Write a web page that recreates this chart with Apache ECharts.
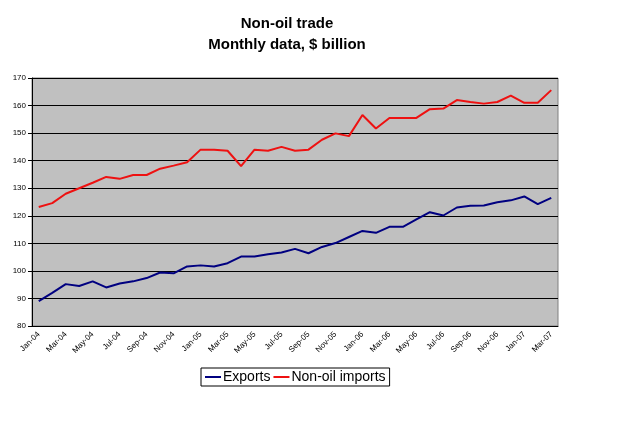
<!DOCTYPE html>
<html>
<head>
<meta charset="utf-8">
<script src="https://cdn.jsdelivr.net/npm/echarts@6/dist/echarts.min.js"></script>
<style>
  html, body { margin: 0; padding: 0; background: #fff; }
  #chart { width: 638px; height: 437px; }
</style>
</head>
<body>
<div id="chart"></div>
<script>
const months = [
  "Jan-04", "Feb-04", "Mar-04", "Apr-04", "May-04", "Jun-04", "Jul-04", "Aug-04", "Sep-04", "Oct-04", "Nov-04", "Dec-04",
  "Jan-05", "Feb-05", "Mar-05", "Apr-05", "May-05", "Jun-05", "Jul-05", "Aug-05", "Sep-05", "Oct-05", "Nov-05", "Dec-05",
  "Jan-06", "Feb-06", "Mar-06", "Apr-06", "May-06", "Jun-06", "Jul-06", "Aug-06", "Sep-06", "Oct-06", "Nov-06", "Dec-06",
  "Jan-07", "Feb-07", "Mar-07",
];

const exportsData = [
  89.0, 92.0, 95.2, 94.5, 96.2, 94.0, 95.4, 96.2, 97.4, 99.4, 99.1, 101.6,
  102.0, 101.6, 102.8, 105.2, 105.2, 106.0, 106.7, 108.0, 106.4, 108.7, 110.1, 112.3,
  114.5, 113.8, 116.0, 116.0, 118.7, 121.3, 120.1, 123.0, 123.6, 123.7, 124.9, 125.6,
  127.0, 124.2, 126.5,
];

const importsData = [
  123.2, 124.6, 128.0, 130.0, 132.0, 134.1, 133.4, 134.8, 134.8, 137.1, 138.2, 139.4,
  144.0, 144.0, 143.6, 138.0, 144.0, 143.6, 145.0, 143.6, 144.0, 147.6, 149.9, 148.9,
  156.6, 151.7, 155.5, 155.5, 155.5, 158.7, 158.9, 162.0, 161.3, 160.7, 161.3, 163.6,
  161.0, 161.0, 165.6,
];

const chart = echarts.init(document.getElementById("chart"));

chart.setOption({
  animation: false,
  backgroundColor: "#fff",
  title: {
    text: "Non-oil trade\nMonthly data, $ billion",
    left: 282,
    top: 8,
    textAlign: "center",
    textStyle: {
      fontFamily: "Arial, Liberation Sans",
      fontSize: 15,
      fontWeight: "bold",
      color: "#000",
      lineHeight: 21,
    },
  },
  legend: {
    data: ["Exports", "Non-oil imports"],
    left: 201,
    top: 368,
    padding: [2, 4, 2, 4],
    itemGap: 3,
    itemWidth: 16,
    itemHeight: 2,
    icon: "rect",
    borderColor: "#000",
    borderWidth: 1,
    textStyle: {
      fontFamily: "Arial, Liberation Sans",
      fontSize: 14,
      color: "#000",
      padding: [0, 0, 0, -3],
    },
  },
  grid: {
    left: 32,
    right: 80,
    top: 78,
    bottom: 111,
    show: true,
    backgroundColor: "#c0c0c0",
    borderColor: "#808080",
    borderWidth: 1,
  },
  xAxis: {
    type: "category",
    data: months,
    boundaryGap: true,
    axisLine: { lineStyle: { color: "#000" } },
    axisTick: { interval: 1, length: 4, lineStyle: { color: "#000" } },
    axisLabel: {
      interval: 1,
      rotate: 45,
      fontFamily: "Arial, Liberation Sans",
      fontSize: 8,
      color: "#000",
      margin: 7,
    },
    splitLine: { show: false },
  },
  yAxis: {
    type: "value",
    min: 80,
    max: 170,
    interval: 10,
    axisLine: { show: true, lineStyle: { color: "#000" } },
    axisTick: { show: true, length: 4, lineStyle: { color: "#000" } },
    axisLabel: {
      fontFamily: "Arial, Liberation Sans",
      fontSize: 8,
      color: "#000",
      margin: 6,
    },
    splitLine: { lineStyle: { color: "#000", width: 1 } },
  },
  series: [
    {
      name: "Exports",
      type: "line",
      data: exportsData,
      symbol: "none",
      itemStyle: { color: "#000080" },
      lineStyle: { color: "#000080", width: 2 },
    },
    {
      name: "Non-oil imports",
      type: "line",
      data: importsData,
      symbol: "none",
      itemStyle: { color: "#ee1111" },
      lineStyle: { color: "#ee1111", width: 2 },
    },
  ],
});
</script>
</body>
</html>
